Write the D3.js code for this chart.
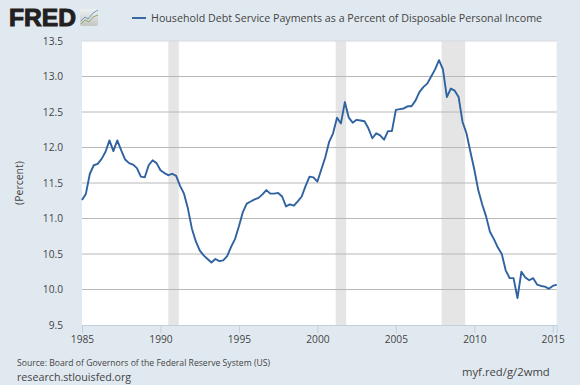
<!DOCTYPE html>
<html>
<head>
<meta charset="utf-8">
<script src="https://cdn.jsdelivr.net/npm/d3@7"></script>
<style>
    html, body { margin: 0; padding: 0; background: #e1e9f0; }
    svg { display: block; }
    text { font-family: "Open Sans", sans-serif; fill: #444; }
</style>
</head>
<body>
<svg id="chart"></svg>
<script>
// quarterly values, 1985 Q1 to 2015 Q2
var startYear = 1985;
var debtService = [
    11.26, 11.35, 11.63, 11.75, 11.77, 11.84, 11.94, 12.10, 11.95, 12.10,
    11.96, 11.83, 11.78, 11.76, 11.71, 11.59, 11.58, 11.75, 11.82, 11.78,
    11.68, 11.64, 11.61, 11.63, 11.60, 11.46, 11.35, 11.14, 10.86, 10.68,
    10.55, 10.48, 10.43, 10.38, 10.43, 10.40, 10.41, 10.47, 10.60, 10.71,
    10.89, 11.09, 11.21, 11.24, 11.27, 11.29, 11.34, 11.40, 11.35, 11.35,
    11.36, 11.31, 11.17, 11.20, 11.18, 11.24, 11.31, 11.46, 11.59, 11.58,
    11.52, 11.69, 11.86, 12.08, 12.20, 12.42, 12.34, 12.64, 12.42, 12.35,
    12.39, 12.38, 12.37, 12.27, 12.13, 12.20, 12.17, 12.11, 12.23, 12.23,
    12.53, 12.54, 12.55, 12.58, 12.58, 12.66, 12.78, 12.85, 12.90, 13.00,
    13.10, 13.23, 13.10, 12.71, 12.83, 12.80, 12.71, 12.36, 12.20, 11.94,
    11.69, 11.40, 11.20, 11.03, 10.81, 10.71, 10.59, 10.50, 10.27, 10.16,
    10.16, 9.88, 10.25, 10.17, 10.13, 10.16, 10.07, 10.05, 10.04, 10.01,
    10.05, 10.07
];
var yTicks = [9.5, 10, 10.5, 11, 11.5, 12, 12.5, 13, 13.5];
var xTicks = [1985, 1990, 1995, 2000, 2005, 2010, 2015];
var recessionStart = [1990.5, 2001.167, 2007.917];
var recessionEnd = [1991.167, 2001.833, 2009.417];

var titleText = "Household Debt Service Payments as a Percent of Disposable Personal Income";
var sourceText = "Source: Board of Governors of the Federal Reserve System (US)";
var siteText = "research.stlouisfed.org";
var linkText = "myf.red/g/2wmd";

var width = 580;
var height = 385;
var plotLeft = 82, plotRight = 556.7, plotTop = 41, plotBottom = 325;
var lineColor = "#2f62a0";

var svg = d3.select("#chart")
    .attr("width", width)
    .attr("height", height);

svg.append("rect")
    .attr("width", width)
    .attr("height", height)
    .attr("fill", "#e1e9f0");

var quarters = debtService.map(function(d, i) { return startYear + i / 4; });

var xScale = d3.scaleLinear()
    .domain([startYear, quarters[quarters.length - 1]])
    .range([plotLeft, plotRight]);

var yScale = d3.scaleLinear()
    .domain([9.5, 13.5])
    .range([plotBottom, plotTop]);

// plot area
svg.append("rect")
    .attr("x", plotLeft)
    .attr("y", plotTop)
    .attr("width", plotRight - plotLeft)
    .attr("height", plotBottom - plotTop)
    .attr("fill", "white");

// recession bands
svg.append("g").selectAll("rect")
    .data(recessionStart)
    .enter().append("rect")
    .attr("x", function(d) { return xScale(d); })
    .attr("y", plotTop)
    .attr("width", function(d, i) { return xScale(recessionEnd[i]) - xScale(d); })
    .attr("height", plotBottom - plotTop)
    .attr("fill", "#e5e5e5");

// gridlines
svg.append("g").selectAll("line")
    .data(yTicks.slice(1))
    .enter().append("line")
    .attr("x1", plotLeft)
    .attr("x2", plotRight)
    .attr("y1", function(d) { return yScale(d); })
    .attr("y2", function(d) { return yScale(d); })
    .attr("stroke", function(d) { return d == 13.5 ? "#d4d8dc" : "#b8b8b8"; })
    .attr("stroke-width", 1);

// axes
var yAxis = d3.axisLeft(yScale)
    .tickValues(yTicks)
    .tickSize(0)
    .tickPadding(19)
    .tickFormat(d3.format(".1f"));

var yG = svg.append("g")
    .attr("transform", "translate(" + plotLeft + ",0)")
    .call(yAxis);
yG.select(".domain").remove();
yG.selectAll("text").style("font-size", "10.2px");

var xAxis = d3.axisBottom(xScale)
    .tickValues(xTicks)
    .tickSize(8)
    .tickPadding(3)
    .tickFormat(d3.format("d"));

var xG = svg.append("g")
    .attr("transform", "translate(0," + plotBottom + ")")
    .call(xAxis);
xG.select(".domain").attr("stroke", "#c0d0e0");
xG.selectAll("line").attr("stroke", "#c0d0e0");
xG.selectAll("text").style("font-size", "10.2px");

svg.append("text")
    .attr("transform", "translate(23,183) rotate(-90)")
    .attr("text-anchor", "middle")
    .style("font-size", "10.5px")
    .text("(Percent)");

// data line
var line = d3.line()
    .x(function(d, i) { return xScale(quarters[i]); })
    .y(function(d) { return yScale(d); });

svg.append("path")
    .datum(debtService)
    .attr("d", line)
    .attr("fill", "none")
    .attr("stroke", lineColor)
    .attr("stroke-width", 1.9)
    .attr("stroke-linejoin", "round");

// legend
svg.append("line")
    .attr("x1", 132)
    .attr("x2", 146)
    .attr("y1", 18)
    .attr("y2", 18)
    .attr("stroke", lineColor)
    .attr("stroke-width", 1.9);

svg.append("text")
    .attr("x", 151)
    .attr("y", 22)
    .style("font-size", "10.7px")
    .text(titleText);

// logo
svg.append("text")
    .attr("x", 9)
    .attr("y", 26)
    .attr("textLength", 67)
    .attr("lengthAdjust", "spacingAndGlyphs")
    .style("font-family", "'Liberation Sans', sans-serif")
    .style("font-size", "24px")
    .style("font-weight", "bold")
    .style("fill", "#231f20")
    .style("stroke", "#231f20")
    .style("stroke-width", "1px")
    .text("FRED");

var logoDefs = svg.append("defs").append("linearGradient")
    .attr("id", "logoGrad")
    .attr("x1", 0).attr("x2", 0).attr("y1", 0).attr("y2", 1);
logoDefs.append("stop").attr("offset", "0%").attr("stop-color", "#eef1f3");
logoDefs.append("stop").attr("offset", "100%").attr("stop-color", "#c4c6c4");

svg.append("rect")
    .attr("x", 80).attr("y", 9)
    .attr("width", 18).attr("height", 17)
    .attr("rx", 2)
    .attr("fill", "url(#logoGrad)");
svg.append("path")
    .attr("d", "M81,21L85,17L88,19L93,13L98,10")
    .attr("fill", "none").attr("stroke", "#5b87ad").attr("stroke-width", 0.8);
svg.append("path")
    .attr("d", "M81,24L85,20L89,22L93,17L98,15")
    .attr("fill", "none").attr("stroke", "#7f9f50").attr("stroke-width", 0.8);

// footer
svg.append("text")
    .attr("x", 17)
    .attr("y", 366)
    .style("font-size", "8.65px")
    .text(sourceText);

svg.append("text")
    .attr("x", 17)
    .attr("y", 381)
    .style("font-size", "10.7px")
    .text(siteText);

svg.append("text")
    .attr("x", 462)
    .attr("y", 376)
    .style("font-size", "11.3px")
    .text(linkText);
</script>
</body>
</html>
